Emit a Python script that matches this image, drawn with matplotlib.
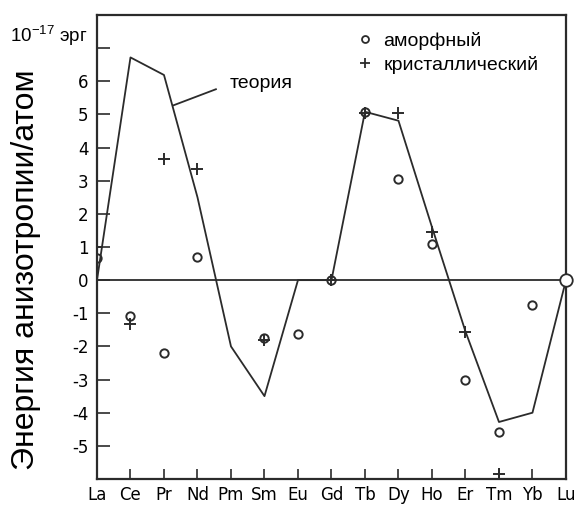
import matplotlib
matplotlib.use("Agg")
import matplotlib.pyplot as plt
import numpy as np
from matplotlib.lines import Line2D

plt.rcParams["mathtext.fontset"] = "custom"
plt.rcParams["mathtext.rm"] = "Liberation Sans"

# rare-earth series, La..Lu
elements = ["La", "Ce", "Pr", "Nd", "Pm", "Sm", "Eu", "Gd", "Tb", "Dy", "Ho", "Er", "Tm", "Yb", "Lu"]
theory = [0.0, 6.72, 6.19, 2.5, -2.0, -3.5, 0.0, 0.0, 5.08, 4.81, 1.6, -1.55, -4.28, -4.0, 0.0]
amorphous = [0.66, -1.08, -2.21, 0.71, np.nan, -1.74, -1.64, 0.0, 5.08, 3.04, 1.09, -3.02, -4.59, -0.76, np.nan]
crystal = [1.0, -1.33, 3.65, 3.35, np.nan, -1.8, np.nan, 0.0, 5.05, 5.05, 1.45, -1.56, -5.85, np.nan, np.nan]
lu_value = 0.0  # open circle on the right edge

yticks = [-5, -4, -3, -2, -1, 0, 1, 2, 3, 4, 5, 6, 7]
ytick_labels = ["-5", "-4", "-3", "-2", "-1", "0", "1", "2", "3", "4", "5", "6", ""]

ink = "#2b2b2b"
x = np.arange(len(elements))

fig = plt.figure(figsize=(5.79, 5.05), dpi=100)
ax = fig.add_axes([0.1675, 0.0515, 0.81, 0.9188])

ax.axhline(0, color=ink, linewidth=1.3, zorder=1)
ax.plot(x, theory, color=ink, linewidth=1.3, zorder=2)
ax.plot(x, amorphous, linestyle="none", marker="o", markersize=6, markerfacecolor="none",
        markeredgecolor=ink, markeredgewidth=1.4, zorder=3)
ax.plot(x, crystal, linestyle="none", marker="+", markersize=8, color=ink,
        markeredgewidth=1.4, zorder=3)
ax.plot([x[-1]], [lu_value], linestyle="none", marker="o", markersize=9, markerfacecolor="white",
        markeredgecolor=ink, markeredgewidth=1.3, zorder=4, clip_on=False)

# leader line for the theory curve
ax.plot([2.27, 3.55], [5.27, 5.76], color=ink, linewidth=1.3)
ax.text(3.97, 5.94, "теория", fontsize=14, family="Liberation Sans", va="center", ha="left")

ax.set_xlim(0, 14)
ax.set_ylim(-6, 8)
ax.set_xticks(x)
ax.set_xticklabels(elements)
ax.set_yticks(yticks)
ax.set_yticklabels(ytick_labels)
ax.tick_params(axis="both", direction="in", width=1.2, color=ink, labelsize=12)
ax.tick_params(axis="y", length=9, pad=6)
ax.tick_params(axis="x", length=7, pad=5)
for s in ax.spines.values():
    s.set_linewidth(1.6)
    s.set_color(ink)

fig.text(0.045, 0.465, "Энергия анизотропии/атом", fontsize=23, family="Liberation Sans",
         rotation=90, ha="center", va="center")
fig.text(0.017, 0.93, "10$^{-17}$ эрг", fontsize=13.5, family="Liberation Sans", ha="left", va="center")

handles = [
    Line2D([], [], linestyle="none", marker="o", markersize=5, markerfacecolor="none",
           markeredgecolor=ink, markeredgewidth=1.3),
    Line2D([], [], linestyle="none", marker="+", markersize=7, color=ink, markeredgewidth=1.3),
]
ax.legend(handles, ["аморфный", "кристаллический"], loc="upper left", bbox_to_anchor=(0.534, 0.984),
          frameon=False, borderpad=0, handlelength=0.8, handletextpad=0.55, labelspacing=0.3,
          prop={"family": "Liberation Sans", "size": 14})

fig.savefig("out.png", dpi=100)
